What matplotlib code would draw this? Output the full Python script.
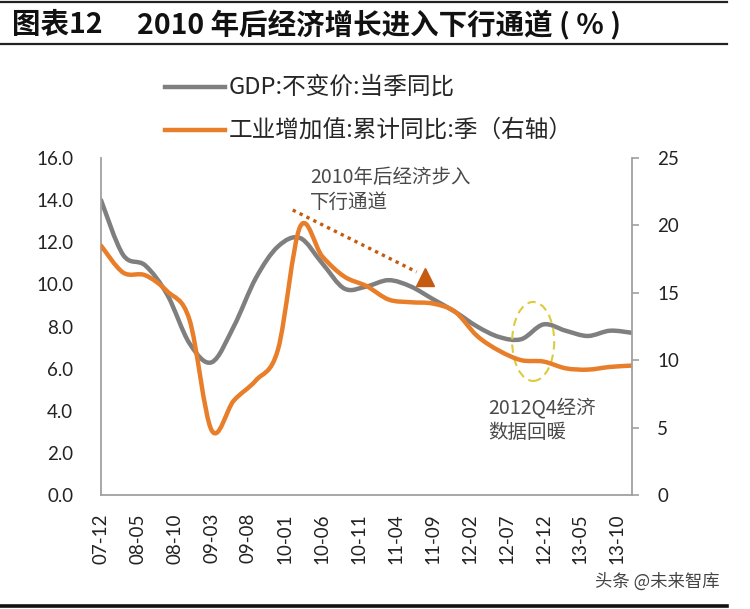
import numpy as np
import matplotlib
matplotlib.use('Agg')
import matplotlib.pyplot as plt
from matplotlib.path import Path
from matplotlib.patches import PathPatch, Ellipse
from matplotlib.lines import Line2D

plt.rcParams['font.family'] = ['Noto Sans CJK SC', 'DejaVu Sans']

# Quarter-end dates of the data (year-month)
quarters = ['07-12', '08-03', '08-06', '08-09', '08-12', '09-03', '09-06', '09-09', '09-12',
            '10-03', '10-06', '10-09', '10-12', '11-03', '11-06', '11-09', '11-12',
            '12-03', '12-06', '12-09', '12-12', '13-03', '13-06', '13-09', '13-12']
# GDP constant price, quarterly yoy (left axis)
gdp = [14.0, 11.4, 10.9, 9.5, 7.2, 6.3, 8.0, 10.3, 11.8, 12.2, 11.0, 9.8, 9.9,
       10.2, 9.9, 9.3, 8.7, 8.0, 7.5, 7.4, 8.1, 7.8, 7.55, 7.8, 7.7]
# Industrial value added, cumulative yoy (right axis)
ind = [18.5, 16.5, 16.3, 15.1, 13.0, 4.8, 7.0, 8.5, 10.8, 19.9, 17.7, 16.2, 15.5,
       14.5, 14.3, 14.2, 13.6, 11.8, 10.7, 10.0, 9.9, 9.4, 9.3, 9.5, 9.6]
# x tick labels (every 5 months)
tick_labels = ['07-12', '08-05', '08-10', '09-03', '09-08', '10-01', '10-06', '10-11',
               '11-04', '11-09', '12-02', '12-07', '12-12', '13-05', '13-10']

label_gdp = 'GDP:不变价:当季同比'
label_ind = '工业增加值:累计同比:季（右轴）'


def month_index(s):
    y, m = s.split('-')
    return (int(y) - 7) * 12 + int(m) - 12


# Excel-like smoothed line as cubic bezier path
def smooth_path(x, y):
    pts = np.column_stack([x, y]).astype(float)
    n = len(pts)
    verts = [pts[0]]
    codes = [Path.MOVETO]
    for i in range(n - 1):
        p0 = pts[max(i - 1, 0)]
        p1 = pts[i]
        p2 = pts[i + 1]
        p3 = pts[min(i + 2, n - 1)]
        verts += [p1 + (p2 - p0) / 6, p2 - (p3 - p1) / 6, p2]
        codes += [Path.CURVE4] * 3
    return Path(verts, codes)


xq = [month_index(q) for q in quarters]
xt = [month_index(t) for t in tick_labels]

gray = '#7F7F7F'
orange = '#E87E2A'
axis_col = '#A0A0A0'

fig = plt.figure(figsize=(7.5, 6.09), dpi=100)
ax = fig.add_axes([101 / 750, 1 - 495 / 609, (632 - 101) / 750, (495 - 158) / 609])
ax2 = ax.twinx()

ax.add_patch(PathPatch(smooth_path(xq, gdp), fill=False, edgecolor=gray, lw=3.2,
                       capstyle='round', joinstyle='round'))
ax2.add_patch(PathPatch(smooth_path(xq, ind), fill=False, edgecolor=orange, lw=3.2,
                        capstyle='round', joinstyle='round'))

ax.set_xlim(xq[0], xq[-1])
ax.set_ylim(0, 16)
ax2.set_ylim(0, 25)
ax.set_yticks(np.arange(0, 16.1, 2))
ax.set_yticklabels([f'{v:.1f}' for v in np.arange(0, 16.1, 2)])
ax2.set_yticks(np.arange(0, 26, 5))
ax.set_xticks(xt)
ax.set_xticklabels(tick_labels, rotation=90)

for a in (ax, ax2):
    for s in a.spines.values():
        s.set_visible(False)
ax.spines['left'].set_visible(True)
ax.spines['bottom'].set_visible(True)
ax2.spines['right'].set_visible(True)
for s in (ax.spines['left'], ax.spines['bottom'], ax2.spines['right']):
    s.set_color(axis_col)
    s.set_linewidth(1.3)

ax.tick_params(axis='y', length=0, pad=20)
ax.tick_params(axis='x', length=0, pad=13)
ax2.tick_params(axis='y', length=5, direction='out', color=axis_col, width=1.2, pad=13)
for lab in ax.get_yticklabels() + ax.get_xticklabels() + ax2.get_yticklabels():
    lab.set_fontfamily(['Lato', 'DejaVu Sans'])
    lab.set_fontsize(13.5)
    lab.set_color('#222222')

# annotations
ann_col = '#C55A11'
ax.plot([26.0, 42.8], [13.53, 10.59], linestyle=(0, (1, 1.3)), color=ann_col, lw=2.4, clip_on=False)
ax.plot([43.9], [10.35], marker='^', color=ann_col, markersize=13, clip_on=False)
ax.text(28.3, 14.48, '2010年后经济步入\n下行通道', fontsize=14, color='#4A4A4A',
        va='center', ha='left', linespacing=1.2)
ax.add_patch(Ellipse((58.6, 7.29), 5.7, 3.75, fill=False, edgecolor='#DCCB3C',
                     linestyle=(0, (4, 2.5)), lw=1.5))
ax.text(52.5, 3.56, '2012Q4经济\n数据回暖', fontsize=14, color='#4A4A4A',
        va='center', ha='left', linespacing=1.2)

# legend drawn by hand
fig.add_artist(Line2D([165 / 750, 225 / 750], [1 - 87 / 609] * 2, color=gray, lw=3.2))
fig.add_artist(Line2D([165 / 750, 225 / 750], [1 - 130 / 609] * 2, color=orange, lw=3.2))
fig.text(229 / 750, 1 - 87 / 609, label_gdp, fontsize=17, color='#262626', va='center')
fig.text(229 / 750, 1 - 130 / 609, label_ind, fontsize=17, color='#262626', va='center')

# title and frame lines
fig.add_artist(Line2D([0, 727 / 750], [1 - 2 / 609] * 2, color='#222222', lw=1.6))
fig.add_artist(Line2D([0, 727 / 750], [1 - 44 / 609] * 2, color='#222222', lw=1.6))
fig.add_artist(Line2D([0, 727 / 750], [1 - 606 / 609] * 2, color='#111111', lw=2.6))
fig.text(12 / 750, 1 - 25 / 609, '图表12', fontsize=20.5, fontweight='bold', color='#111111', va='center')
fig.text(137 / 750, 1 - 25 / 609, '2010 年后经济增长进入下行通道 ( % )', fontsize=20.5,
         fontweight='bold', color='#111111', va='center')

fig.text(595 / 750, 1 - 582 / 609, '头条 @未来智库', fontsize=12.5, color='#444444', va='center')

fig.savefig('out.png', dpi=100)
